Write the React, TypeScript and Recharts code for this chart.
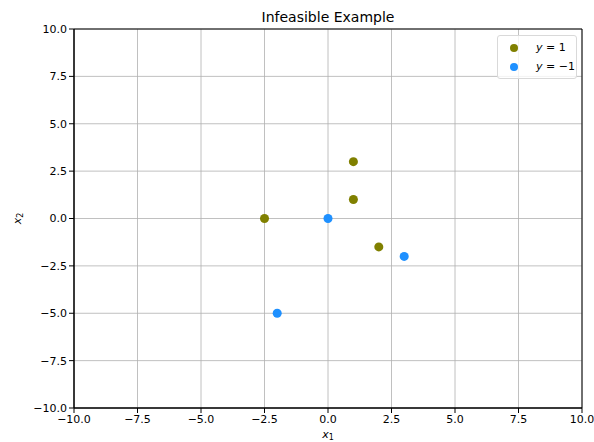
import {
  CartesianGrid,
  ReferenceArea,
  Scatter,
  ScatterChart,
  XAxis,
  YAxis,
  ZAxis,
} from "recharts";

const positivePoints = [
  { x: -2.5, y: 0 },
  { x: 1, y: 3 },
  { x: 1, y: 1 },
  { x: 2, y: -1.5 },
];

const negativePoints = [
  { x: 0, y: 0 },
  { x: 3, y: -2 },
  { x: -2, y: -5 },
];

const ticks = [-10, -7.5, -5, -2.5, 0, 2.5, 5, 7.5, 10];

const olive = "#808000";
const blue = "#1e90ff";
const font = "DejaVu Sans, sans-serif";

const fmt = (v: number) => {
  const s = v.toFixed(1);
  return v < 0 ? "\u2212" + s.slice(1) : s;
};

function LegendBox() {
  const rows = [
    { color: olive, label: "1" },
    { color: blue, label: "\u22121" },
  ];
  return (
    <div
      style={{
        position: "absolute",
        left: 497,
        top: 35,
        width: 80,
        boxSizing: "border-box",
        border: "1px solid #d9d9d9",
        borderRadius: 3,
        background: "rgba(255,255,255,0.8)",
        padding: "2px 0 2px 12px",
        fontFamily: font,
        fontSize: 11,
        color: "#000",
        whiteSpace: "nowrap",
      }}
    >
      {rows.map((r) => (
        <div
          key={r.label}
          style={{ display: "flex", alignItems: "center", height: 19 }}
        >
          <span
            style={{
              width: 8,
              height: 8,
              flexShrink: 0,
              borderRadius: 4,
              background: r.color,
              display: "inline-block",
              marginRight: 18,
            }}
          />
          <span style={{ fontStyle: "italic" }}>y</span>
          <span>&nbsp;=&nbsp;{r.label}</span>
        </div>
      ))}
    </div>
  );
}

export default function App() {
  return (
    <div
      style={{
        position: "absolute",
        left: 0,
        top: 0,
        width: 594,
        height: 442,
        background: "#fff",
      }}
    >
      <ScatterChart
        width={594}
        height={442}
        margin={{ top: 29, right: 12, bottom: 0, left: 0 }}
      >
        <text
          x={328}
          y={22}
          textAnchor="middle"
          fontFamily={font}
          fontSize={14}
          fill="#000"
        >
          Infeasible Example
        </text>
        <CartesianGrid stroke="#b0b0b0" strokeWidth={0.8} />
        <XAxis
          type="number"
          dataKey="x"
          domain={[-10, 10]}
          ticks={ticks}
          tickFormatter={fmt}
          height={34}
          tickSize={5}
          tickMargin={2}
          interval={0}
          stroke="#000"
          tick={{ fill: "#000", fontFamily: font, fontSize: 11 }}
          label={(props: any) => {
            const vb = props.viewBox;
            return (
              <text
                x={vb.x + vb.width / 2}
                y={vb.y + 30}
                textAnchor="middle"
                fontFamily={font}
                fontSize={11}
                fill="#000"
              >
                <tspan fontStyle="italic">x</tspan>
                <tspan fontSize={8} dy={2}>
                  1
                </tspan>
              </text>
            );
          }}
        />
        <YAxis
          type="number"
          dataKey="y"
          domain={[-10, 10]}
          ticks={ticks}
          tickFormatter={fmt}
          width={74}
          tickSize={5}
          tickMargin={2}
          interval={0}
          stroke="#000"
          tick={{ fill: "#000", fontFamily: font, fontSize: 11 }}
          label={(props: any) => {
            const vb = props.viewBox;
            const cx = 21;
            const cy = vb.y + vb.height / 2;
            return (
              <text
                x={cx}
                y={cy}
                textAnchor="middle"
                fontFamily={font}
                fontSize={11}
                fill="#000"
                transform={`rotate(-90 ${cx} ${cy})`}
              >
                <tspan fontStyle="italic">x</tspan>
                <tspan fontSize={8} dy={2}>
                  2
                </tspan>
              </text>
            );
          }}
        />
        <ZAxis range={[52, 52]} />
        <ReferenceArea
          x1={-10}
          x2={10}
          y1={-10}
          y2={10}
          fill="none"
          fillOpacity={0}
          stroke="#000"
          strokeWidth={1}
          ifOverflow="visible"
        />
        <Scatter
          name="y = 1"
          data={positivePoints}
          fill={olive}
          isAnimationActive={false}
        />
        <Scatter
          name="y = -1"
          data={negativePoints}
          fill={blue}
          isAnimationActive={false}
        />
      </ScatterChart>
      <LegendBox />
    </div>
  );
}
